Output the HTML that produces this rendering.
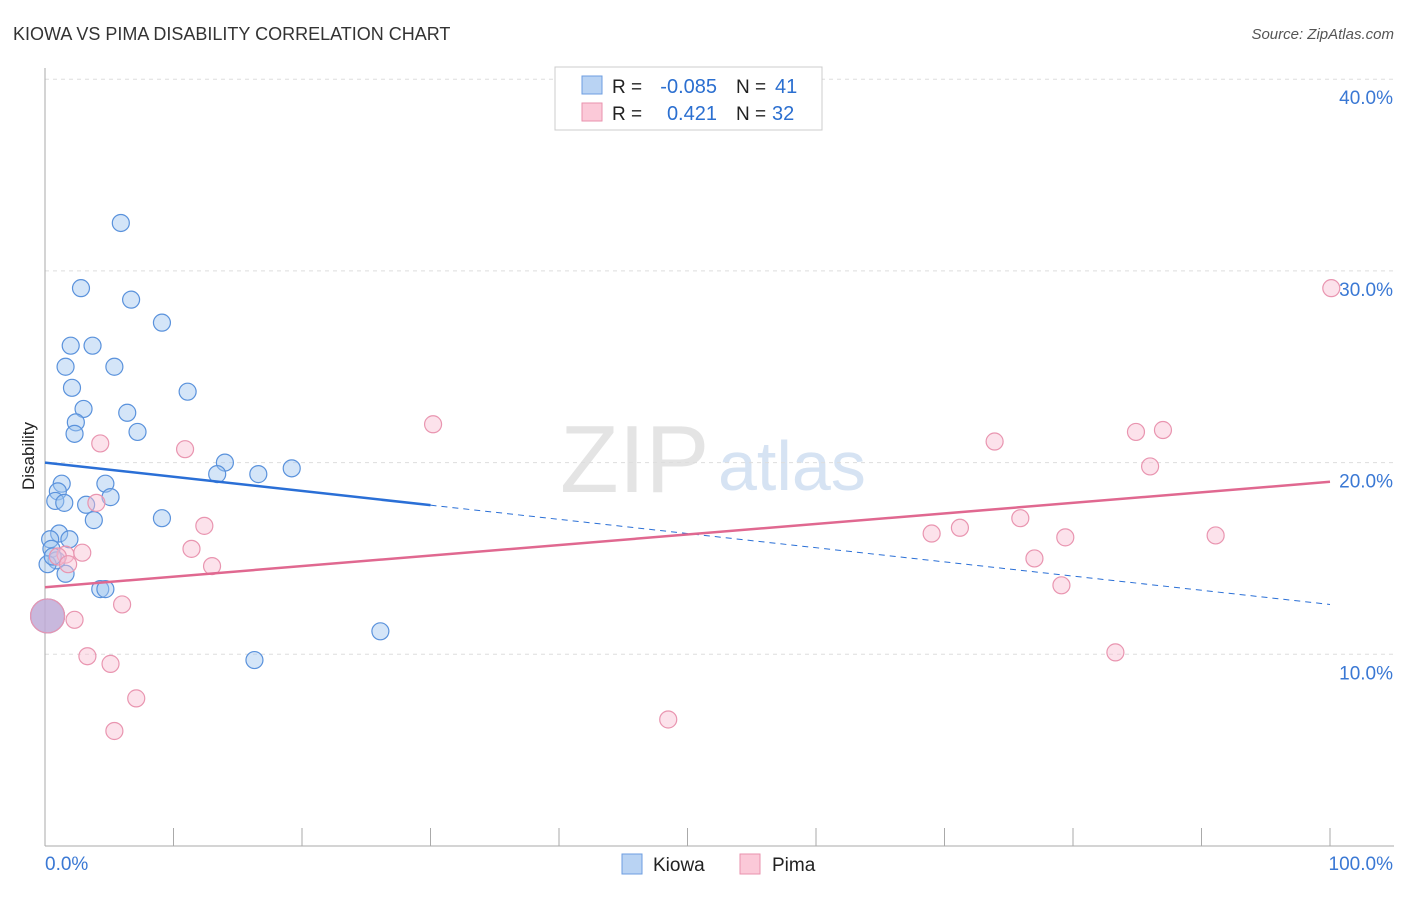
<!DOCTYPE html>
<html><head><meta charset="utf-8"><style>
body{margin:0;background:#fff;font-family:"Liberation Sans",sans-serif;}
svg text{font-family:"Liberation Sans",sans-serif;}
</style></head><body>
<svg id="c" width="1406" height="892">
<text x="13" y="40" font-size="18" fill="#333">KIOWA VS PIMA DISABILITY CORRELATION CHART</text>
<text x="1394" y="39" font-size="15" fill="#555" font-style="italic" text-anchor="end">Source: ZipAtlas.com</text>
<text x="560" y="492" font-size="96" fill="#e4e4e4" font-family="Liberation Serif">ZIP</text>
<text x="718" y="490" font-size="70" fill="#d6e3f3">atlas</text>
<text transform="translate(34,456) rotate(-90)" font-size="17" fill="#222" text-anchor="middle">Disability</text>
<g id="grid"></g><g id="axes"></g><g id="pts"></g><g id="lines"></g>
<g>
<rect x="555" y="67" width="267" height="63" fill="#fff" stroke="#ccc"/>
<rect x="582" y="76" width="20" height="18" fill="#b9d3f3" stroke="#6d9ee0"/>
<rect x="582" y="103" width="20" height="18" fill="#fbc9d8" stroke="#ea92ae"/>
<text x="612" y="93" font-size="19" fill="#222">R =</text>
<text x="717" y="93" font-size="20" fill="#2b6fd0" text-anchor="end">-0.085</text>
<text x="736" y="93" font-size="19" fill="#222">N =</text>
<text x="775" y="93" font-size="20" fill="#2b6fd0">41</text>
<text x="612" y="120" font-size="19" fill="#222">R =</text>
<text x="717" y="120" font-size="20" fill="#2b6fd0" text-anchor="end">0.421</text>
<text x="736" y="120" font-size="19" fill="#222">N =</text>
<text x="772" y="120" font-size="20" fill="#2b6fd0">32</text>
</g>
<g>
<rect x="622" y="854" width="20" height="20" fill="#b9d3f3" stroke="#6d9ee0"/>
<text x="653" y="871" font-size="19" fill="#222">Kiowa</text>
<rect x="740" y="854" width="20" height="20" fill="#fbc9d8" stroke="#ea92ae"/>
<text x="772" y="871" font-size="19" fill="#222">Pima</text>
</g>
</svg>
<script>
const kiowaX=[5.9,2.8,6.7,9.1,2.0,3.7,1.6,5.4,2.1,11.1,3.0,6.4,2.4,2.3,7.2,14.0,13.4,16.6,19.2,1.3,4.7,1.0,0.8,1.5,5.1,3.2,3.8,9.1,1.1,1.9,0.4,0.5,0.9,0.2,1.6,4.3,4.7,26.1,16.3,0.2,0.6];
const kiowaY=[32.5,29.1,28.5,27.3,26.1,26.1,25.0,25.0,23.9,23.7,22.8,22.6,22.1,21.5,21.6,20.0,19.4,19.4,19.7,18.9,18.9,18.5,18.0,17.9,18.2,17.8,17.0,17.1,16.3,16.0,16.0,15.5,14.9,14.7,14.2,13.4,13.4,11.2,9.7,12.0,15.1];
const pimaX=[30.2,4.3,10.9,4.0,12.4,1.6,2.9,11.4,1.0,1.8,13.0,6.0,2.3,0.2,3.3,5.1,7.1,5.4,48.5,73.9,84.9,87.0,86.0,69.0,71.2,75.9,79.4,77.0,79.1,91.1,83.3,100.1];
const pimaY=[22.0,21.0,20.7,17.9,16.7,15.2,15.3,15.5,15.1,14.7,14.6,12.6,11.8,12.0,9.9,9.5,7.7,6.0,6.6,21.1,21.6,21.7,19.8,16.3,16.6,17.1,16.1,15.0,13.6,16.2,10.1,29.1];
const yTicks=[10,20,30,40];
const yTickLabels=["10.0%","20.0%","30.0%","40.0%"];
const xTicks=[0,10,20,30,40,50,60,70,80,90,100];
const kiowaTrend=[20.0,12.6];
const pimaTrend=[13.5,19.0];
const NS="http://www.w3.org/2000/svg";
const sx=v=>45+v*12.85, sy=v=>846-v*19.17;
function mk(t,a,p){const e=document.createElementNS(NS,t);for(const k in a)e.setAttribute(k,a[k]);document.getElementById(p).appendChild(e);return e;}
yTicks.forEach((t,i)=>{
 const l=mk('line',{x1:45,x2:1394,y1:sy(t),y2:sy(t),stroke:'#ddd','stroke-dasharray':'4,4'},'grid');
 
 
 const tx=mk('text',{x:1393,y:sy(t)+25,'font-size':19,fill:'#3a78d4','text-anchor':'end'},'grid');
 tx.textContent=yTickLabels[i];
 
 
});
const ya=mk('line',{x1:45,x2:45,y1:68,y2:846,stroke:'#aaa'},'axes');


const xa=mk('line',{x1:45,x2:1394,y1:846,y2:846,stroke:'#aaa'},'axes');


xTicks.forEach(t=>{
 const l=mk('line',{x1:sx(t),x2:sx(t),y1:828,y2:846,stroke:'#aaa'},'axes');
 
 
});
const x0=mk('text',{x:45,y:870,'font-size':19,fill:'#3a78d4'},'axes');x0.textContent='0.0%';


const x1=mk('text',{x:1393,y:870,'font-size':19,fill:'#3a78d4','text-anchor':'end'},'axes');x1.textContent='100.0%';


function pts(X,Y,fill,stroke,name){
 X.forEach((x,i)=>{
  const big=(x<=0.3&&Math.abs(Y[i]-12)<0.2);
  const c=mk('circle',{cx:sx(x),cy:sy(Y[i]),r:big?17:8.5,fill:big?'rgba(190,170,215,0.6)':fill,stroke:stroke,'stroke-width':1.2},'pts');
  
  
 });
}
pts(kiowaX,kiowaY,'rgba(160,198,240,0.45)','#5a92dc','kiowa-point');
pts(pimaX,pimaY,'rgba(248,190,210,0.45)','#e995b0','pima-point');
const kAt=x=>kiowaTrend[0]+(kiowaTrend[1]-kiowaTrend[0])*x/100;
const k1=mk('line',{x1:sx(0),y1:sy(kAt(0)),x2:sx(30),y2:sy(kAt(30)),stroke:'#2a6fd6','stroke-width':2.5},'lines');


const k2=mk('line',{x1:sx(30),y1:sy(kAt(30)),x2:sx(100),y2:sy(kAt(100)),stroke:'#2a6fd6','stroke-width':1,'stroke-dasharray':'6,5'},'lines');


const p1=mk('line',{x1:sx(0),y1:sy(pimaTrend[0]),x2:sx(100),y2:sy(pimaTrend[1]),stroke:'#e06890','stroke-width':2.5},'lines');


</script>
</body></html>
